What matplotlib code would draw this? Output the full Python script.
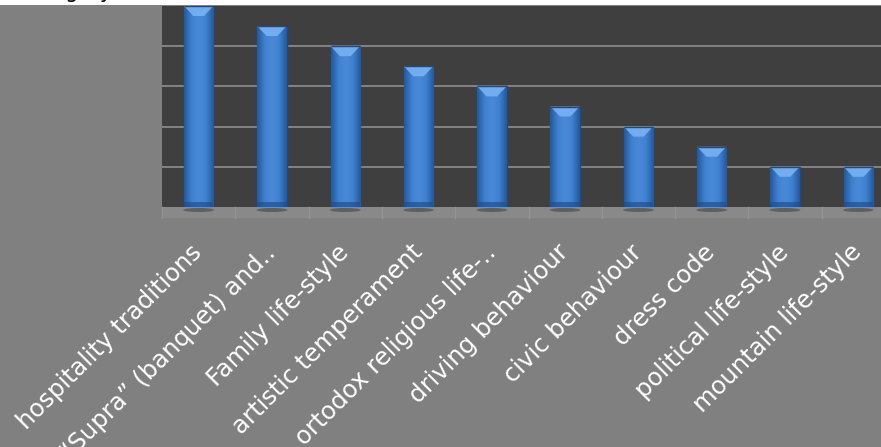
import numpy as np
import matplotlib
matplotlib.use("Agg")
import matplotlib.pyplot as plt
from matplotlib.patches import Rectangle, Polygon, Ellipse
import matplotlib.colors as mcolors

categories = ["hospitality traditions", "\u201cSupra\u201d (banquet) and..", "Family life-style",
              "artistic temperament", "ortodox religious life-..", "driving behaviour",
              "civic behaviour", "dress code", "political life-style", "mountain life-style"]
values = [10, 9, 8, 7, 6, 5, 4, 3, 2, 2]
title_text = "Category"

W, H = 881, 447
fig = plt.figure(figsize=(W / 100, H / 100), dpi=100, facecolor="#808080")
fig.patches.append(Rectangle((0, (H - 5) / H), 1, 5 / H, transform=fig.transFigure,
                             facecolor="white", edgecolor="none", zorder=-10))
fig.text(113 / W, 1 + 1.5 / H, title_text, ha="right", va="baseline", fontsize=15,
         color="black", family="DejaVu Sans")

ax = fig.add_axes([162 / W, (H - 207) / H, 733 / W, 201 / H])
ax.set_facecolor("#3f3f3f")
ax.set_xlim(-0.5, len(categories) - 0.5)
ax.set_ylim(0, 10)
ax.set_yticks([2, 4, 6, 8])
ax.yaxis.grid(True, color="#8f8f8f", linewidth=1.2)
ax.set_axisbelow(True)
ax.tick_params(axis="y", length=0, labelleft=False)
ax.tick_params(axis="x", length=0)
for s in ax.spines.values():
    s.set_visible(False)

x = np.arange(len(categories))
bw = 0.40
bars = ax.bar(x, values, width=bw, color="#3b78c4", edgecolor="#1d4a86", linewidth=1.0, zorder=3)

cmap = mcolors.LinearSegmentedColormap.from_list("cyl", ["#24589c", "#3f80d0", "#4a8ad8", "#3f80d0", "#24589c"])
grad = np.linspace(0, 1, 64).reshape(1, -1)
px_per_unit = 201 / 10.0
for xi, v, b in zip(x, values, bars):
    im = ax.imshow(grad, cmap=cmap, extent=[xi - bw / 2, xi + bw / 2, 0, v], aspect="auto",
                   zorder=3.5, interpolation="bicubic")
    im.set_clip_path(b)
    d = 10 / px_per_unit
    top = Polygon([[xi - bw / 2, v], [xi + bw / 2, v], [xi + bw * 0.18, v - d], [xi - bw * 0.18, v - d]],
                  closed=True, facecolor="#78b2f2", edgecolor="none", zorder=4, alpha=0.9)
    ax.add_patch(top)
    bot = Rectangle((xi - bw / 2, 0), bw, 5 / px_per_unit, facecolor="#1f4f8f", edgecolor="none",
                    zorder=4, alpha=0.7)
    ax.add_patch(bot)
    ax.add_patch(Rectangle((xi - bw / 2, v), bw, 0, edgecolor="#1d4a86", linewidth=1.0, zorder=5, fill=False))
    ax.add_patch(Ellipse((xi, -3 / px_per_unit), bw * 1.05, 4 / px_per_unit, facecolor="#555555",
                         edgecolor="none", zorder=2.5, clip_on=False, alpha=0.8))

ax.add_patch(Rectangle((-0.5, -11 / px_per_unit), len(categories), 11 / px_per_unit,
                       facecolor="#898989", edgecolor="none", zorder=1, clip_on=False))
for xb in np.arange(-0.5, len(categories), 1.0):
    ax.plot([xb, xb], [-11 / px_per_unit, 0], color="#939393", lw=1, zorder=1.5, clip_on=False)

ax.set_xticks(x)
ax.set_xticklabels(categories, rotation=45, ha="right", va="center", rotation_mode="anchor",
                   color="white", fontsize=17.5, family="DejaVu Sans")
ax.tick_params(axis="x", pad=30)

fig.savefig("out.png", dpi=100, facecolor=fig.get_facecolor())
